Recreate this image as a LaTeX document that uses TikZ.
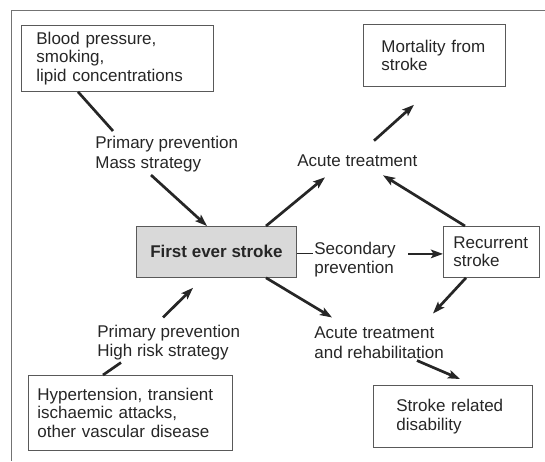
\documentclass[tikz,border=0pt]{standalone}
\usepackage{fontspec}
\setmainfont{Liberation Sans}
\usetikzlibrary{arrows.meta}

\begin{document}
\begin{tikzpicture}[x=1pt,y=-1pt,->,>={Stealth[length=12pt,width=8.5pt,inset=2.5pt]},
  line width=2.7pt,color=black!85,
  box node/.style={draw=black!65,line width=0.8pt,anchor=north west,inner xsep=0pt,
    align=left,text=black!85,font=\fontsize{17}{18.5}\selectfont},
  text node/.style={inner sep=0pt,anchor=west,align=left,text=black!85,
    font=\fontsize{17}{19.5}\selectfont}]

  \useasboundingbox (0,0) rectangle (545,461);
  \draw[-,line width=0.8pt,black!55] (545,10) -- (11,10) -- (11,461);

  % boxes
  \node[box node,minimum width=192pt,minimum height=66pt,text width=162pt] (bp) at (21,25)
    {Blood pressure,\\smoking,\\lipid concentrations};
  \node[box node,minimum width=142pt,minimum height=62pt,text width=106pt] (mort) at (363,24)
    {Mortality from\\stroke};
  \node[box node,fill=black!15,minimum width=160pt,minimum height=51pt,align=center,
    font=\fontsize{17}{18.5}\selectfont\bfseries] (stroke) at (136,226) {First ever stroke};
  \node[box node,minimum width=96pt,minimum height=51pt,text width=76pt] (recur) at (443,226)
    {Recurrent\\stroke};
  \node[box node,minimum width=204pt,minimum height=75pt,text width=186pt] (hyper) at (28,375)
    {Hypertension, transient\\ischaemic attacks,\\other vascular disease};
  \node[box node,minimum width=159pt,minimum height=62pt,text width=113pt] (disab) at (373,385)
    {Stroke related\\disability};

  % labels
  \node[text node] (mass) at (94,154) {Primary prevention\\Mass strategy};
  \node[text node] (acute) at (296,161) {Acute treatment};
  \node[text node] (second) at (313,259.5) {Secondary\\prevention};
  \node[text node] (highrisk) at (96,342.5) {Primary prevention\\High risk strategy};
  \node[text node] (rehab) at (313,342.5) {Acute treatment\\and rehabilitation};

  % connectors
  \draw[-] ([xshift=57pt]bp.south west) -- ([xshift=19pt,yshift=4pt]mass.north west);
  \draw ([xshift=57pt,yshift=-2pt]mass.south west) -- ([xshift=71pt]stroke.north west);
  \draw ([xshift=130pt]stroke.north west) -- ([xshift=29pt,yshift=-9pt]acute.south west);
  \draw ([xshift=78pt,yshift=13pt]acute.north west) -- ([xshift=51pt,yshift=-18pt]mort.south west);
  \draw ([xshift=22pt]recur.north west) -- ([xshift=87pt,yshift=-7pt]acute.south west);
  \draw[-,line width=1.2pt] ([yshift=-1.5pt]stroke.east) -- ([yshift=-1.5pt]stroke.east -| second.west);
  \draw ([xshift=-35pt,yshift=-2pt]recur.west) -- ([yshift=-2pt]recur.west);
  \draw ([xshift=130pt]stroke.south west) -- ([xshift=19pt,yshift=8pt]rehab.north west);
  \draw ([xshift=23pt]recur.south west) -- ([xshift=120pt,yshift=12pt]rehab.north west);
  \draw ([xshift=104pt,yshift=-1pt]rehab.south west) -- ([xshift=87pt,yshift=6pt]disab.north west);
  \draw[-] ([xshift=75pt]hyper.north west) -- ([xshift=25pt,yshift=-1pt]highrisk.south west);
  \draw ([xshift=67pt,yshift=6pt]highrisk.north west) -- ([xshift=57pt,yshift=-10pt]stroke.south west);

\end{tikzpicture}
\end{document}
